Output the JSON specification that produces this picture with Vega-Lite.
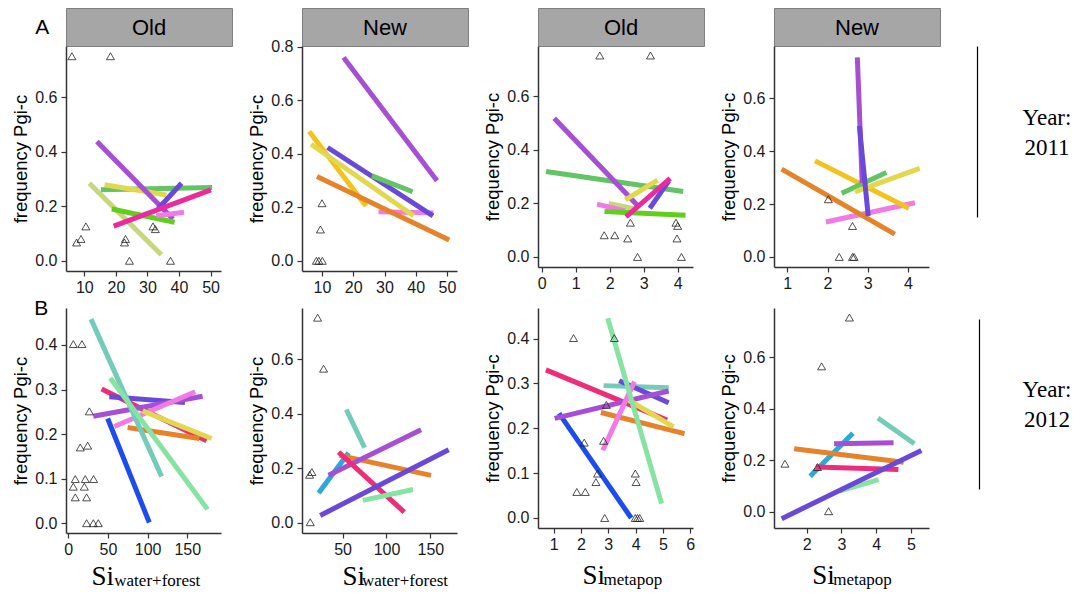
{
"$schema": "https://vega.github.io/schema/vega-lite/v6.json",
"padding": {"left": 11, "top": 7, "right": 0, "bottom": 0},
"title": {"text": "B", "anchor": "start", "frame": "group", "orient": "top", "offset": 0, "dx": -31.7, "dy": 329, "baseline": "alphabetic", "align": "left", "font": "Liberation Sans", "fontSize": 21, "fontWeight": "normal", "color": "#000000"},
"config": {
  "view": {"stroke": null},
  "range": {"category": ["#a64fd4", "#6a48d8", "#62c462", "#5fcf1c", "#e2d84e", "#c8d67c", "#ec2a9e", "#f27ae4", "#f2c21d", "#e6822a", "#ee2c78", "#74ccb8", "#86e3a2", "#1c4cee", "#2ea8d6"]},
  "axis": {"grid": false, "domainColor": "#333333", "domainWidth": 1.5, "tickColor": "#333333", "tickWidth": 1.2, "tickSize": 5, "labelFont": "Liberation Sans", "labelFontSize": 16, "labelColor": "#1a1a1a", "labelPadding": 3, "labelOverlap": false, "titleFont": "Liberation Sans", "titleFontSize": 18.5, "titleFontWeight": "normal", "titleColor": "#000000"},
  "axisX": {"labelOverlap": false, "labelFlush": false, "labelBound": false},
  "axisY": {"titlePadding": 4, "labelPadding": 4}
},
"datasets": {
  "lines": [
    {"p": "A1", "pop": "pop06", "x1": 11.6, "y1": 0.284, "x2": 34.4, "y2": 0.022},
    {"p": "A1", "pop": "pop03", "x1": 15.3, "y1": 0.26, "x2": 50.5, "y2": 0.269},
    {"p": "A1", "pop": "pop05", "x1": 16.4, "y1": 0.279, "x2": 36.0, "y2": 0.241},
    {"p": "A1", "pop": "pop01", "x1": 14.0, "y1": 0.437, "x2": 38.1, "y2": 0.153},
    {"p": "A1", "pop": "pop04", "x1": 18.7, "y1": 0.19, "x2": 38.6, "y2": 0.141},
    {"p": "A1", "pop": "pop08", "x1": 32.8, "y1": 0.165, "x2": 41.6, "y2": 0.178},
    {"p": "A1", "pop": "pop02", "x1": 33.3, "y1": 0.19, "x2": 40.8, "y2": 0.284},
    {"p": "A1", "pop": "pop07", "x1": 19.3, "y1": 0.127, "x2": 50.1, "y2": 0.26},
    {"p": "A2", "pop": "pop08", "x1": 28.1, "y1": 0.183, "x2": 45.7, "y2": 0.179},
    {"p": "A2", "pop": "pop09", "x1": 5.9, "y1": 0.483, "x2": 24.1, "y2": 0.205},
    {"p": "A2", "pop": "pop05", "x1": 6.5, "y1": 0.435, "x2": 39.3, "y2": 0.168},
    {"p": "A2", "pop": "pop02", "x1": 11.8, "y1": 0.423, "x2": 45.5, "y2": 0.168},
    {"p": "A2", "pop": "pop03", "x1": 26.0, "y1": 0.317, "x2": 39.0, "y2": 0.258},
    {"p": "A2", "pop": "pop10", "x1": 8.4, "y1": 0.315, "x2": 50.7, "y2": 0.078},
    {"p": "A2", "pop": "pop01", "x1": 16.9, "y1": 0.759, "x2": 46.8, "y2": 0.299},
    {"p": "A3", "pop": "pop03", "x1": 0.13, "y1": 0.319, "x2": 4.16, "y2": 0.244},
    {"p": "A3", "pop": "pop01", "x1": 0.37, "y1": 0.518, "x2": 2.8, "y2": 0.195},
    {"p": "A3", "pop": "pop06", "x1": 1.97, "y1": 0.2, "x2": 2.8, "y2": 0.178},
    {"p": "A3", "pop": "pop08", "x1": 1.63, "y1": 0.197, "x2": 2.46, "y2": 0.172},
    {"p": "A3", "pop": "pop04", "x1": 1.85, "y1": 0.17, "x2": 4.23, "y2": 0.156},
    {"p": "A3", "pop": "pop05", "x1": 2.46, "y1": 0.213, "x2": 3.41, "y2": 0.287},
    {"p": "A3", "pop": "pop02", "x1": 3.18, "y1": 0.182, "x2": 3.74, "y2": 0.284},
    {"p": "A3", "pop": "pop07", "x1": 2.48, "y1": 0.15, "x2": 3.78, "y2": 0.293},
    {"p": "A4", "pop": "pop08", "x1": 1.96, "y1": 0.132, "x2": 4.17, "y2": 0.205},
    {"p": "A4", "pop": "pop10", "x1": 0.86, "y1": 0.332, "x2": 3.67, "y2": 0.086},
    {"p": "A4", "pop": "pop09", "x1": 1.69, "y1": 0.363, "x2": 4.02, "y2": 0.184},
    {"p": "A4", "pop": "pop03", "x1": 2.35, "y1": 0.241, "x2": 3.46, "y2": 0.319},
    {"p": "A4", "pop": "pop05", "x1": 2.68, "y1": 0.246, "x2": 4.29, "y2": 0.335},
    {"p": "A4", "pop": "pop01", "x1": 2.74, "y1": 0.754, "x2": 2.86, "y2": 0.28},
    {"p": "A4", "pop": "pop02", "x1": 2.79, "y1": 0.495, "x2": 3.01, "y2": 0.155},
    {"p": "B1", "pop": "pop14", "x1": 49.6, "y1": 0.235, "x2": 102.1, "y2": 0.0015},
    {"p": "B1", "pop": "pop11", "x1": 42, "y1": 0.301, "x2": 174.4, "y2": 0.185},
    {"p": "B1", "pop": "pop02", "x1": 51.7, "y1": 0.284, "x2": 147, "y2": 0.271},
    {"p": "B1", "pop": "pop01", "x1": 31.5, "y1": 0.24, "x2": 169.3, "y2": 0.285},
    {"p": "B1", "pop": "pop08", "x1": 58, "y1": 0.217, "x2": 160, "y2": 0.295},
    {"p": "B1", "pop": "pop10", "x1": 74.8, "y1": 0.215, "x2": 165.1, "y2": 0.19},
    {"p": "B1", "pop": "pop05", "x1": 93.7, "y1": 0.252, "x2": 180.7, "y2": 0.19},
    {"p": "B1", "pop": "pop12", "x1": 28.6, "y1": 0.458, "x2": 117.6, "y2": 0.105},
    {"p": "B1", "pop": "pop13", "x1": 52.9, "y1": 0.326, "x2": 175.6, "y2": 0.031},
    {"p": "B2", "pop": "pop15", "x1": 22.6, "y1": 0.109, "x2": 56.8, "y2": 0.257},
    {"p": "B2", "pop": "pop12", "x1": 54.2, "y1": 0.415, "x2": 75.1, "y2": 0.275},
    {"p": "B2", "pop": "pop10", "x1": 46.6, "y1": 0.247, "x2": 150.8, "y2": 0.174},
    {"p": "B2", "pop": "pop01", "x1": 34.0, "y1": 0.174, "x2": 139.4, "y2": 0.341},
    {"p": "B2", "pop": "pop11", "x1": 45.4, "y1": 0.259, "x2": 120.3, "y2": 0.039},
    {"p": "B2", "pop": "pop02", "x1": 24.5, "y1": 0.027, "x2": 170.9, "y2": 0.268},
    {"p": "B2", "pop": "pop13", "x1": 73.2, "y1": 0.082, "x2": 130.2, "y2": 0.122},
    {"p": "B3", "pop": "pop14", "x1": 1.2, "y1": 0.233, "x2": 3.84, "y2": 0.0},
    {"p": "B3", "pop": "pop11", "x1": 0.72, "y1": 0.33, "x2": 5.15, "y2": 0.218},
    {"p": "B3", "pop": "pop12", "x1": 2.83, "y1": 0.295, "x2": 5.21, "y2": 0.29},
    {"p": "B3", "pop": "pop02", "x1": 3.4, "y1": 0.306, "x2": 5.21, "y2": 0.257},
    {"p": "B3", "pop": "pop01", "x1": 1.04, "y1": 0.222, "x2": 5.21, "y2": 0.283},
    {"p": "B3", "pop": "pop10", "x1": 2.73, "y1": 0.235, "x2": 5.79, "y2": 0.188},
    {"p": "B3", "pop": "pop05", "x1": 3.74, "y1": 0.263, "x2": 5.39, "y2": 0.203},
    {"p": "B3", "pop": "pop08", "x1": 2.8, "y1": 0.151, "x2": 3.96, "y2": 0.304},
    {"p": "B3", "pop": "pop13", "x1": 2.98, "y1": 0.445, "x2": 4.95, "y2": 0.032},
    {"p": "B4", "pop": "pop12", "x1": 4.05, "y1": 0.364, "x2": 5.1, "y2": 0.264},
    {"p": "B4", "pop": "pop15", "x1": 2.1, "y1": 0.138, "x2": 3.33, "y2": 0.305},
    {"p": "B4", "pop": "pop01", "x1": 2.79, "y1": 0.264, "x2": 4.5, "y2": 0.268},
    {"p": "B4", "pop": "pop10", "x1": 1.64, "y1": 0.245, "x2": 4.79, "y2": 0.193},
    {"p": "B4", "pop": "pop11", "x1": 2.27, "y1": 0.174, "x2": 4.64, "y2": 0.165},
    {"p": "B4", "pop": "pop13", "x1": 2.94, "y1": 0.081, "x2": 4.07, "y2": 0.125},
    {"p": "B4", "pop": "pop02", "x1": 1.28, "y1": -0.026, "x2": 5.3, "y2": 0.238}
  ],
  "pts": [
    {"p": "A1", "x": 6.07, "y": 0.75}, {"p": "A1", "x": 18.28, "y": 0.75}, {"p": "A1", "x": 10.5, "y": 0.126}, {"p": "A1", "x": 7.56, "y": 0.067}, {"p": "A1", "x": 8.94, "y": 0.08}, {"p": "A1", "x": 23.05, "y": 0.08}, {"p": "A1", "x": 22.73, "y": 0.067}, {"p": "A1", "x": 24.3, "y": 0}, {"p": "A1", "x": 31.75, "y": 0.126}, {"p": "A1", "x": 32.5, "y": 0.116}, {"p": "A1", "x": 37.3, "y": 0},
    {"p": "A2", "x": 10.0, "y": 0.215}, {"p": "A2", "x": 9.5, "y": 0.117}, {"p": "A2", "x": 8.2, "y": 0}, {"p": "A2", "x": 9.0, "y": 0}, {"p": "A2", "x": 10.1, "y": 0},
    {"p": "A3", "x": 1.71, "y": 0.752}, {"p": "A3", "x": 3.2, "y": 0.752}, {"p": "A3", "x": 2.61, "y": 0.128}, {"p": "A3", "x": 1.84, "y": 0.081}, {"p": "A3", "x": 2.15, "y": 0.081}, {"p": "A3", "x": 2.53, "y": 0.069}, {"p": "A3", "x": 2.82, "y": 0}, {"p": "A3", "x": 3.95, "y": 0.128}, {"p": "A3", "x": 4.0, "y": 0.116}, {"p": "A3", "x": 3.98, "y": 0.069}, {"p": "A3", "x": 4.11, "y": 0},
    {"p": "A4", "x": 2.02, "y": 0.218}, {"p": "A4", "x": 2.62, "y": 0.117}, {"p": "A4", "x": 2.29, "y": 0}, {"p": "A4", "x": 2.62, "y": 0}, {"p": "A4", "x": 2.66, "y": 0},
    {"p": "B1", "x": 6.3, "y": 0.402}, {"p": "B1", "x": 17.2, "y": 0.402}, {"p": "B1", "x": 26.5, "y": 0.251}, {"p": "B1", "x": 15.1, "y": 0.17}, {"p": "B1", "x": 24.4, "y": 0.174}, {"p": "B1", "x": 8.8, "y": 0.099}, {"p": "B1", "x": 21.4, "y": 0.099}, {"p": "B1", "x": 31.9, "y": 0.099}, {"p": "B1", "x": 6.3, "y": 0.082}, {"p": "B1", "x": 20.2, "y": 0.082}, {"p": "B1", "x": 8.8, "y": 0.058}, {"p": "B1", "x": 23.1, "y": 0.058}, {"p": "B1", "x": 23.1, "y": 0}, {"p": "B1", "x": 31.5, "y": 0}, {"p": "B1", "x": 37.8, "y": 0},
    {"p": "B2", "x": 21.5, "y": 0.752}, {"p": "B2", "x": 28.3, "y": 0.565}, {"p": "B2", "x": 12.4, "y": 0.176}, {"p": "B2", "x": 15.0, "y": 0.186}, {"p": "B2", "x": 13.1, "y": 0.002},
    {"p": "B3", "x": 1.73, "y": 0.401}, {"p": "B3", "x": 3.22, "y": 0.401}, {"p": "B3", "x": 2.12, "y": 0.168}, {"p": "B3", "x": 2.93, "y": 0.252}, {"p": "B3", "x": 2.83, "y": 0.172}, {"p": "B3", "x": 1.85, "y": 0.058}, {"p": "B3", "x": 2.16, "y": 0.058}, {"p": "B3", "x": 2.61, "y": 0.099}, {"p": "B3", "x": 2.55, "y": 0.08}, {"p": "B3", "x": 2.87, "y": 0}, {"p": "B3", "x": 3.99, "y": 0.099}, {"p": "B3", "x": 4.02, "y": 0.08}, {"p": "B3", "x": 3.99, "y": 0}, {"p": "B3", "x": 4.07, "y": 0}, {"p": "B3", "x": 4.15, "y": 0},
    {"p": "B4", "x": 3.23, "y": 0.753}, {"p": "B4", "x": 2.43, "y": 0.564}, {"p": "B4", "x": 1.375, "y": 0.187}, {"p": "B4", "x": 2.31, "y": 0.174}, {"p": "B4", "x": 2.63, "y": 0.003}
  ]
},
"columns": 5,
"align": "each",
"bounds": "flush",
"spacing": {"row": 0, "column": 70},
"concat": [
  {"width": 166, "height": 38, "view": {"fill": "#a6a6a6", "stroke": "#7f7f7f", "strokeWidth": 1},
   "title": {"text": "A", "anchor": "start", "frame": "group", "orient": "top", "offset": 0, "dx": -30.7, "dy": 47, "baseline": "alphabetic", "align": "left", "font": "Liberation Sans", "fontSize": 21, "fontWeight": "normal", "color": "#000000"},
   "data": {"values": [{"h": "Old"}]}, "mark": {"type": "text", "font": "Liberation Sans", "fontSize": 22, "baseline": "middle", "align": "center", "color": "#000000", "dy": 1}, "encoding": {"text": {"field": "h"}}},
  {"width": 166, "height": 38, "view": {"fill": "#a6a6a6", "stroke": "#7f7f7f", "strokeWidth": 1},
   "data": {"values": [{"h": "New"}]}, "mark": {"type": "text", "font": "Liberation Sans", "fontSize": 22, "baseline": "middle", "align": "center", "color": "#000000", "dy": 1}, "encoding": {"text": {"field": "h"}}},
  {"width": 166, "height": 38, "view": {"fill": "#a6a6a6", "stroke": "#7f7f7f", "strokeWidth": 1},
   "data": {"values": [{"h": "Old"}]}, "mark": {"type": "text", "font": "Liberation Sans", "fontSize": 22, "baseline": "middle", "align": "center", "color": "#000000", "dy": 1}, "encoding": {"text": {"field": "h"}}},
  {"width": 166, "height": 38, "view": {"fill": "#a6a6a6", "stroke": "#7f7f7f", "strokeWidth": 1},
   "data": {"values": [{"h": "New"}]}, "mark": {"type": "text", "font": "Liberation Sans", "fontSize": 22, "baseline": "middle", "align": "center", "color": "#000000", "dy": 1}, "encoding": {"text": {"field": "h"}}},
  {"width": 10, "height": 10, "data": {"values": [{"t": ""}]}, "mark": {"type": "text"}, "encoding": {"text": {"field": "t"}}},

  {"width": 155, "height": 225, "layer": [
    {"data": {"name": "lines"}, "transform": [{"filter": "datum.p === 'A1'"}], "mark": {"type": "rule", "strokeWidth": 5, "strokeCap": "butt"},
     "encoding": {"x": {"field": "x1", "type": "quantitative", "scale": {"domain": [4.2, 53.3], "nice": false, "zero": false}, "axis": {"values": [10, 20, 30, 40, 50], "tickCount": 12, "format": "d", "labelOverlap": false, "title": null}},
      "x2": {"field": "x2"},
      "y": {"field": "y1", "type": "quantitative", "scale": {"domain": [-0.0375, 0.7875], "nice": false, "zero": false}, "axis": {"values": [0, 0.2, 0.4, 0.6], "tickCount": 12, "format": ".1f", "title": "frequency Pgi-c"}},
      "y2": {"field": "y2"},
      "color": {"field": "pop", "type": "nominal", "legend": null}}},
    {"data": {"name": "pts"}, "transform": [{"filter": "datum.p === 'A1'"}], "mark": {"type": "point", "shape": "triangle-up", "filled": false, "size": 64, "stroke": "#222222", "strokeWidth": 0.8, "opacity": 1},
     "encoding": {"x": {"field": "x", "type": "quantitative", "title": null}, "y": {"field": "y", "type": "quantitative", "title": "frequency Pgi-c"}}}
  ]},
  {"width": 155, "height": 225, "layer": [
    {"data": {"name": "lines"}, "transform": [{"filter": "datum.p === 'A2'"}], "mark": {"type": "rule", "strokeWidth": 5, "strokeCap": "butt"},
     "encoding": {"x": {"field": "x1", "type": "quantitative", "scale": {"domain": [3.6, 53.2], "nice": false, "zero": false}, "axis": {"values": [10, 20, 30, 40, 50], "tickCount": 12, "format": "d", "labelOverlap": false, "title": null}},
      "x2": {"field": "x2"},
      "y": {"field": "y1", "type": "quantitative", "scale": {"domain": [-0.038, 0.802], "nice": false, "zero": false}, "axis": {"values": [0, 0.2, 0.4, 0.6, 0.8], "tickCount": 12, "format": ".1f", "title": "frequency Pgi-c"}},
      "y2": {"field": "y2"},
      "color": {"field": "pop", "type": "nominal", "legend": null}}},
    {"data": {"name": "pts"}, "transform": [{"filter": "datum.p === 'A2'"}], "mark": {"type": "point", "shape": "triangle-up", "filled": false, "size": 64, "stroke": "#222222", "strokeWidth": 0.8, "opacity": 1},
     "encoding": {"x": {"field": "x", "type": "quantitative", "title": null}, "y": {"field": "y", "type": "quantitative", "title": "frequency Pgi-c"}}}
  ]},
  {"width": 155, "height": 221, "layer": [
    {"data": {"name": "lines"}, "transform": [{"filter": "datum.p === 'A3'"}], "mark": {"type": "rule", "strokeWidth": 5, "strokeCap": "butt"},
     "encoding": {"x": {"field": "x1", "type": "quantitative", "scale": {"domain": [-0.106, 4.45], "nice": false, "zero": false}, "axis": {"values": [0, 1, 2, 3, 4], "tickCount": 12, "format": "d", "labelOverlap": false, "title": null}},
      "x2": {"field": "x2"},
      "y": {"field": "y1", "type": "quantitative", "scale": {"domain": [-0.0375, 0.7875], "nice": false, "zero": false}, "axis": {"values": [0, 0.2, 0.4, 0.6], "tickCount": 12, "format": ".1f", "title": "frequency Pgi-c"}},
      "y2": {"field": "y2"},
      "color": {"field": "pop", "type": "nominal", "legend": null}}},
    {"data": {"name": "pts"}, "transform": [{"filter": "datum.p === 'A3'"}], "mark": {"type": "point", "shape": "triangle-up", "filled": false, "size": 64, "stroke": "#222222", "strokeWidth": 0.8, "opacity": 1},
     "encoding": {"x": {"field": "x", "type": "quantitative", "title": null}, "y": {"field": "y", "type": "quantitative", "title": "frequency Pgi-c"}}}
  ]},
  {"width": 155, "height": 221, "layer": [
    {"data": {"name": "lines"}, "transform": [{"filter": "datum.p === 'A4'"}], "mark": {"type": "rule", "strokeWidth": 5, "strokeCap": "butt"},
     "encoding": {"x": {"field": "x1", "type": "quantitative", "scale": {"domain": [0.67, 4.52], "nice": false, "zero": false}, "axis": {"values": [1, 2, 3, 4], "tickCount": 12, "format": "d", "labelOverlap": false, "title": null}},
      "x2": {"field": "x2"},
      "y": {"field": "y1", "type": "quantitative", "scale": {"domain": [-0.038, 0.797], "nice": false, "zero": false}, "axis": {"values": [0, 0.2, 0.4, 0.6], "tickCount": 12, "format": ".1f", "title": "frequency Pgi-c"}},
      "y2": {"field": "y2"},
      "color": {"field": "pop", "type": "nominal", "legend": null}}},
    {"data": {"name": "pts"}, "transform": [{"filter": "datum.p === 'A4'"}], "mark": {"type": "point", "shape": "triangle-up", "filled": false, "size": 64, "stroke": "#222222", "strokeWidth": 0.8, "opacity": 1},
     "encoding": {"x": {"field": "x", "type": "quantitative", "title": null}, "y": {"field": "y", "type": "quantitative", "title": "frequency Pgi-c"}}}
  ]},
  {"width": 37, "height": 262, "data": {"values": [{"label": "Year:\n2011"}]},
   "mark": {"type": "text", "lineBreak": "\n", "font": "Liberation Serif", "fontSize": 23, "lineHeight": 30, "align": "center", "baseline": "middle", "color": "#000000", "dy": -14},
   "encoding": {"text": {"field": "label"},
     "x": {"datum": 1, "type": "quantitative", "scale": {"domain": [0, 1]}, "axis": null},
     "y": {"datum": 0.5, "type": "quantitative", "scale": {"domain": [0, 1], "range": [171, 0]}, "axis": {"orient": "left", "offset": 33, "ticks": false, "labels": false, "title": null, "domainColor": "#000000", "domainWidth": 1.2}}}},

  {"width": 155, "height": 225, "layer": [
    {"data": {"name": "lines"}, "transform": [{"filter": "datum.p === 'B1'"}], "mark": {"type": "rule", "strokeWidth": 5, "strokeCap": "butt"},
     "encoding": {"x": {"field": "x1", "type": "quantitative", "scale": {"domain": [-2.9, 192.5], "nice": false, "zero": false}, "axis": {"values": [0, 50, 100, 150], "tickCount": 12, "format": "d", "labelOverlap": false, "title": "Si", "titleFont": "Liberation Serif", "titleFontSize": 27, "titleX": 25, "titleY": 51, "titleAlign": "left", "titleBaseline": "alphabetic", "titleAngle": 0}},
      "x2": {"field": "x2"},
      "y": {"field": "y1", "type": "quantitative", "scale": {"domain": [-0.022, 0.483], "nice": false, "zero": false}, "axis": {"values": [0, 0.1, 0.2, 0.3, 0.4], "tickCount": 12, "format": ".1f", "title": "frequency Pgi-c"}},
      "y2": {"field": "y2"},
      "color": {"field": "pop", "type": "nominal", "legend": null}}},
    {"data": {"name": "pts"}, "transform": [{"filter": "datum.p === 'B1'"}], "mark": {"type": "point", "shape": "triangle-up", "filled": false, "size": 64, "stroke": "#222222", "strokeWidth": 0.8, "opacity": 1},
     "encoding": {"x": {"field": "x", "type": "quantitative", "title": "Si"}, "y": {"field": "y", "type": "quantitative", "title": "frequency Pgi-c"}}}
   ],
   "title": {"text": "water+forest", "orient": "bottom", "anchor": "start", "frame": "group", "offset": 0, "dx": 48.3, "dy": -3.5, "baseline": "alphabetic", "align": "left", "font": "Liberation Serif", "fontSize": 17, "fontWeight": "normal", "color": "#000000"}},
  {"width": 155, "height": 225, "layer": [
    {"data": {"name": "lines"}, "transform": [{"filter": "datum.p === 'B2'"}], "mark": {"type": "rule", "strokeWidth": 5, "strokeCap": "butt"},
     "encoding": {"x": {"field": "x1", "type": "quantitative", "scale": {"domain": [3.7, 180.4], "nice": false, "zero": false}, "axis": {"values": [50, 100, 150], "tickCount": 12, "format": "d", "labelOverlap": false, "title": "Si", "titleFont": "Liberation Serif", "titleFontSize": 27, "titleX": 40, "titleY": 51, "titleAlign": "left", "titleBaseline": "alphabetic", "titleAngle": 0}},
      "x2": {"field": "x2"},
      "y": {"field": "y1", "type": "quantitative", "scale": {"domain": [-0.0375, 0.7875], "nice": false, "zero": false}, "axis": {"values": [0, 0.2, 0.4, 0.6], "tickCount": 12, "format": ".1f", "title": "frequency Pgi-c"}},
      "y2": {"field": "y2"},
      "color": {"field": "pop", "type": "nominal", "legend": null}}},
    {"data": {"name": "pts"}, "transform": [{"filter": "datum.p === 'B2'"}], "mark": {"type": "point", "shape": "triangle-up", "filled": false, "size": 64, "stroke": "#222222", "strokeWidth": 0.8, "opacity": 1},
     "encoding": {"x": {"field": "x", "type": "quantitative", "title": "Si"}, "y": {"field": "y", "type": "quantitative", "title": "frequency Pgi-c"}}}
   ],
   "title": {"text": "water+forest", "orient": "bottom", "anchor": "start", "frame": "group", "offset": 0, "dx": 60, "dy": -3.5, "baseline": "alphabetic", "align": "left", "font": "Liberation Serif", "fontSize": 17, "fontWeight": "normal", "color": "#000000"}},
  {"width": 155, "height": 220, "layer": [
    {"data": {"name": "lines"}, "transform": [{"filter": "datum.p === 'B3'"}], "mark": {"type": "rule", "strokeWidth": 5, "strokeCap": "butt"},
     "encoding": {"x": {"field": "x1", "type": "quantitative", "scale": {"domain": [0.43, 6.1], "nice": false, "zero": false}, "axis": {"values": [1, 2, 3, 4, 5, 6], "tickCount": 12, "format": "d", "labelOverlap": false, "title": "Si", "titleFont": "Liberation Serif", "titleFontSize": 27, "titleX": 44, "titleY": 55.5, "titleAlign": "left", "titleBaseline": "alphabetic", "titleAngle": 0}},
      "x2": {"field": "x2"},
      "y": {"field": "y1", "type": "quantitative", "scale": {"domain": [-0.0223, 0.468], "nice": false, "zero": false}, "axis": {"values": [0, 0.1, 0.2, 0.3, 0.4], "tickCount": 12, "format": ".1f", "title": "frequency Pgi-c"}},
      "y2": {"field": "y2"},
      "color": {"field": "pop", "type": "nominal", "legend": null}}},
    {"data": {"name": "pts"}, "transform": [{"filter": "datum.p === 'B3'"}], "mark": {"type": "point", "shape": "triangle-up", "filled": false, "size": 64, "stroke": "#222222", "strokeWidth": 0.8, "opacity": 1},
     "encoding": {"x": {"field": "x", "type": "quantitative", "title": "Si"}, "y": {"field": "y", "type": "quantitative", "title": "frequency Pgi-c"}}}
   ],
   "title": {"text": "metapop", "orient": "bottom", "anchor": "start", "frame": "group", "offset": 0, "dx": 65.6, "dy": -3.5, "baseline": "alphabetic", "align": "left", "font": "Liberation Serif", "fontSize": 17, "fontWeight": "normal", "color": "#000000"}},
  {"width": 155, "height": 220, "layer": [
    {"data": {"name": "lines"}, "transform": [{"filter": "datum.p === 'B4'"}], "mark": {"type": "rule", "strokeWidth": 5, "strokeCap": "butt"},
     "encoding": {"x": {"field": "x1", "type": "quantitative", "scale": {"domain": [1.06, 5.52], "nice": false, "zero": false}, "axis": {"values": [2, 3, 4, 5], "tickCount": 12, "format": "d", "labelOverlap": false, "title": "Si", "titleFont": "Liberation Serif", "titleFontSize": 27, "titleX": 37.7, "titleY": 55.5, "titleAlign": "left", "titleBaseline": "alphabetic", "titleAngle": 0}},
      "x2": {"field": "x2"},
      "y": {"field": "y1", "type": "quantitative", "scale": {"domain": [-0.062, 0.79], "nice": false, "zero": false}, "axis": {"values": [0, 0.2, 0.4, 0.6], "tickCount": 12, "format": ".1f", "title": "frequency Pgi-c"}},
      "y2": {"field": "y2"},
      "color": {"field": "pop", "type": "nominal", "legend": null}}},
    {"data": {"name": "pts"}, "transform": [{"filter": "datum.p === 'B4'"}], "mark": {"type": "point", "shape": "triangle-up", "filled": false, "size": 64, "stroke": "#222222", "strokeWidth": 0.8, "opacity": 1},
     "encoding": {"x": {"field": "x", "type": "quantitative", "title": "Si"}, "y": {"field": "y", "type": "quantitative", "title": "frequency Pgi-c"}}}
   ],
   "title": {"text": "metapop", "orient": "bottom", "anchor": "start", "frame": "group", "offset": 0, "dx": 59.3, "dy": -3.5, "baseline": "alphabetic", "align": "left", "font": "Liberation Serif", "fontSize": 17, "fontWeight": "normal", "color": "#000000"}},
  {"width": 37, "height": 225, "data": {"values": [{"label": "Year:\n2012"}]},
   "mark": {"type": "text", "lineBreak": "\n", "font": "Liberation Serif", "fontSize": 23, "lineHeight": 30, "align": "center", "baseline": "middle", "color": "#000000", "dy": -14},
   "encoding": {"text": {"field": "label"},
     "x": {"datum": 1, "type": "quantitative", "scale": {"domain": [0, 1]}, "axis": null},
     "y": {"datum": 0.5, "type": "quantitative", "scale": {"domain": [0, 1], "range": [181, 11]}, "axis": {"orient": "left", "offset": 31, "ticks": false, "labels": false, "title": null, "domainColor": "#000000", "domainWidth": 1.2}}}}
]
}
